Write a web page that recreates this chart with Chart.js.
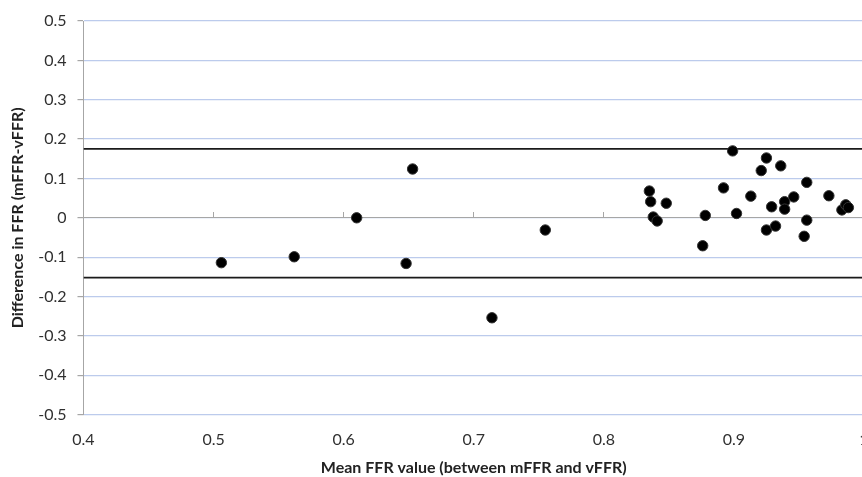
<!DOCTYPE html>
<html>
<head>
<meta charset="utf-8">
<script src="https://cdn.jsdelivr.net/npm/chart.js@4"></script>
<style>
  html, body { margin: 0; padding: 0; background: #fff; overflow: hidden; }
  #wrap { width: 862px; height: 477px; overflow: hidden; position: relative; }
  canvas { position: absolute; left: 0; top: 0; }
</style>
</head>
<body>
<div id="wrap"><canvas id="chart" width="880" height="477"></canvas></div>
<script>
// mean FFR (x) and difference mFFR - vFFR (y)
const meanFfr = [
  0.506, 0.562, 0.610, 0.653, 0.648, 0.714, 0.755,
  0.835, 0.836, 0.848, 0.838, 0.841, 0.878, 0.876,
  0.899, 0.892, 0.902, 0.913, 0.925, 0.921, 0.936,
  0.929, 0.925, 0.932, 0.939, 0.939, 0.946, 0.956,
  0.956, 0.954, 0.973, 0.983, 0.986, 0.988
];
const diffFfr = [
  -0.114, -0.099, 0.000, 0.124, -0.116, -0.254, -0.031,
  0.068, 0.041, 0.037, 0.002, -0.008, 0.006, -0.071,
  0.170, 0.076, 0.011, 0.055, 0.152, 0.120, 0.132,
  0.028, -0.031, -0.021, 0.041, 0.022, 0.053, 0.090,
  -0.006, -0.047, 0.056, 0.020, 0.033, 0.026
];
const upperLimit = 0.175;
const lowerLimit = -0.152;
const xRange = [0.4, 1.0];
const yRange = [-0.5, 0.5];

const fontFamily = 'Lato, "Open Sans", sans-serif';
const textColor = '#303030';
const axisGray = '#a6a6a6';
const gridBlue = '#bccbec';

const points = meanFfr.map((x, i) => ({ x, y: diffFfr[i] }));
const limitLine = (v) => xRange.map((x) => ({ x, y: v }));

// excel style: 0, 0.1 ... 1
const fmt = (v) => {
  const r = Math.round(v * 10) / 10;
  if (r === 0) return '0';
  if (Math.abs(r) === 1) return String(r);
  return r.toFixed(1);
};

new Chart(document.getElementById('chart').getContext('2d'), {
  type: 'scatter',
  data: {
    datasets: [
      {
        label: 'Difference',
        data: points,
        pointRadius: 5.2,
        pointHoverRadius: 5.2,
        pointBackgroundColor: '#000',
        pointBorderColor: '#333',
        pointBorderWidth: 1,
        order: 0
      },
      {
        label: 'Upper limit',
        type: 'line',
        data: limitLine(upperLimit),
        borderColor: '#1a1a1a',
        borderWidth: 1.6,
        pointRadius: 0,
        order: 1
      },
      {
        label: 'Lower limit',
        type: 'line',
        data: limitLine(lowerLimit),
        borderColor: '#1a1a1a',
        borderWidth: 1.6,
        pointRadius: 0,
        order: 1
      }
    ]
  },
  options: {
    responsive: false,
    animation: false,
    layout: { padding: { top: 21, right: 16, left: 8, bottom: 0 } },
    plugins: {
      legend: { display: false },
      tooltip: { enabled: false }
    },
    scales: {
      x: {
        type: 'linear',
        min: xRange[0],
        max: xRange[1],
        grid: { display: false },
        border: { display: false },
        ticks: {
          stepSize: 0.1,
          color: textColor,
          font: { family: fontFamily, size: 16 },
          padding: 8,
          callback: fmt
        },
        title: {
          display: true,
          text: 'Mean FFR value (between mFFR and vFFR)',
          color: '#222',
          font: { family: fontFamily, size: 16, weight: 'bold' },
          padding: { top: 0, bottom: 0 }
        }
      },
      xZero: {
        type: 'linear',
        axis: 'x',
        position: { y: 0 },
        min: xRange[0],
        max: xRange[1],
        grid: { drawOnChartArea: false, drawTicks: true, tickLength: -6, tickColor: axisGray, color: axisGray },
        border: { display: true, color: axisGray, width: 1 },
        ticks: { stepSize: 0.1, display: false }
      },
      y: {
        min: yRange[0],
        max: yRange[1],
        grid: { color: gridBlue, lineWidth: 1.2, tickColor: axisGray, tickLength: 6 },
        border: { display: true, color: axisGray, width: 1 },
        ticks: {
          stepSize: 0.1,
          color: textColor,
          font: { family: fontFamily, size: 16 },
          padding: 11,
          callback: fmt
        },
        title: {
          display: true,
          text: 'Difference in FFR (mFFR-vFFR)',
          color: '#222',
          font: { family: fontFamily, size: 16, weight: 'bold' },
          padding: { top: 0, bottom: 0 }
        }
      }
    }
  }
});
</script>
</body>
</html>
